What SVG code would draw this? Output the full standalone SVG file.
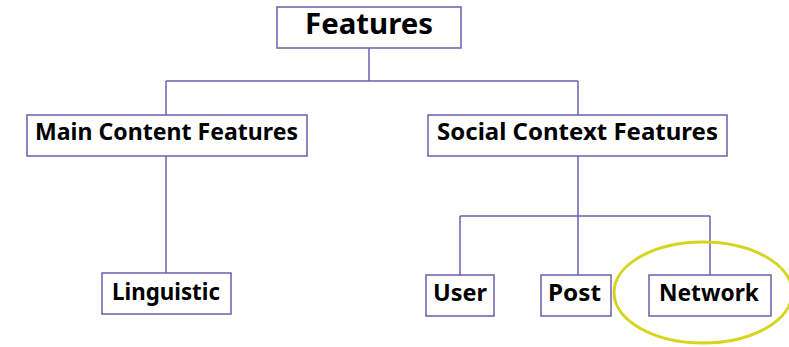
<svg xmlns="http://www.w3.org/2000/svg" width="789" height="347" viewBox="0 0 789 347">
  <style>
    .box { fill: #ffffff; stroke: #6b5fae; stroke-width: 1.5; }
    .label { font-family: "Noto Sans", "Liberation Sans", sans-serif; font-weight: bold; fill: #000000; text-anchor: middle; dominant-baseline: central; font-size: 23px; }
    .title { font-size: 28px; }
    .link { fill: none; stroke: #6b5fae; stroke-width: 1.5; }
  </style>
  <rect width="789" height="347" fill="#ffffff"/>

  <!-- tree connectors -->
  <g id="connectors">
    <path class="link" d="M369 48 V81 M166 81 H578 M166 81 V115 M578 81 V115"/>
    <path class="link" d="M166 156 V273"/>
    <path class="link" d="M578 156 V275 M460 216 H710 M460 216 V275 M710 216 V275"/>
  </g>

  <g id="features">
    <rect class="box" x="277" y="7" width="184" height="41"/>
    <text class="label title" x="369" y="23" textLength="128" lengthAdjust="spacingAndGlyphs">Features</text>
  </g>

  <g id="main-content-features">
    <rect class="box" x="27" y="115" width="280" height="41"/>
    <text class="label" x="166.5" y="131" textLength="263" lengthAdjust="spacingAndGlyphs">Main Content Features</text>
  </g>

  <g id="social-context-features">
    <rect class="box" x="428" y="115" width="299" height="41"/>
    <text class="label" x="577.5" y="131" textLength="281" lengthAdjust="spacingAndGlyphs">Social Context Features</text>
  </g>

  <g id="linguistic">
    <rect class="box" x="102" y="273" width="129" height="41"/>
    <text class="label" x="166" y="291" textLength="108" lengthAdjust="spacingAndGlyphs">Linguistic</text>
  </g>

  <g id="user">
    <rect class="box" x="426" y="275" width="68" height="41"/>
    <text class="label" x="460" y="292" textLength="54" lengthAdjust="spacingAndGlyphs">User</text>
  </g>

  <g id="post">
    <rect class="box" x="541" y="275" width="70" height="41"/>
    <text class="label" x="574.5" y="292" textLength="53" lengthAdjust="spacingAndGlyphs">Post</text>
  </g>

  <g id="network">
    <rect class="box" x="649" y="275" width="122" height="41"/>
    <text class="label" x="709" y="292" textLength="100" lengthAdjust="spacingAndGlyphs">Network</text>
  </g>

  <!-- highlight ring around Network -->
  <ellipse cx="703" cy="292.5" rx="89" ry="50.5" fill="none" stroke="#d6d41c" stroke-width="3"/>
</svg>
